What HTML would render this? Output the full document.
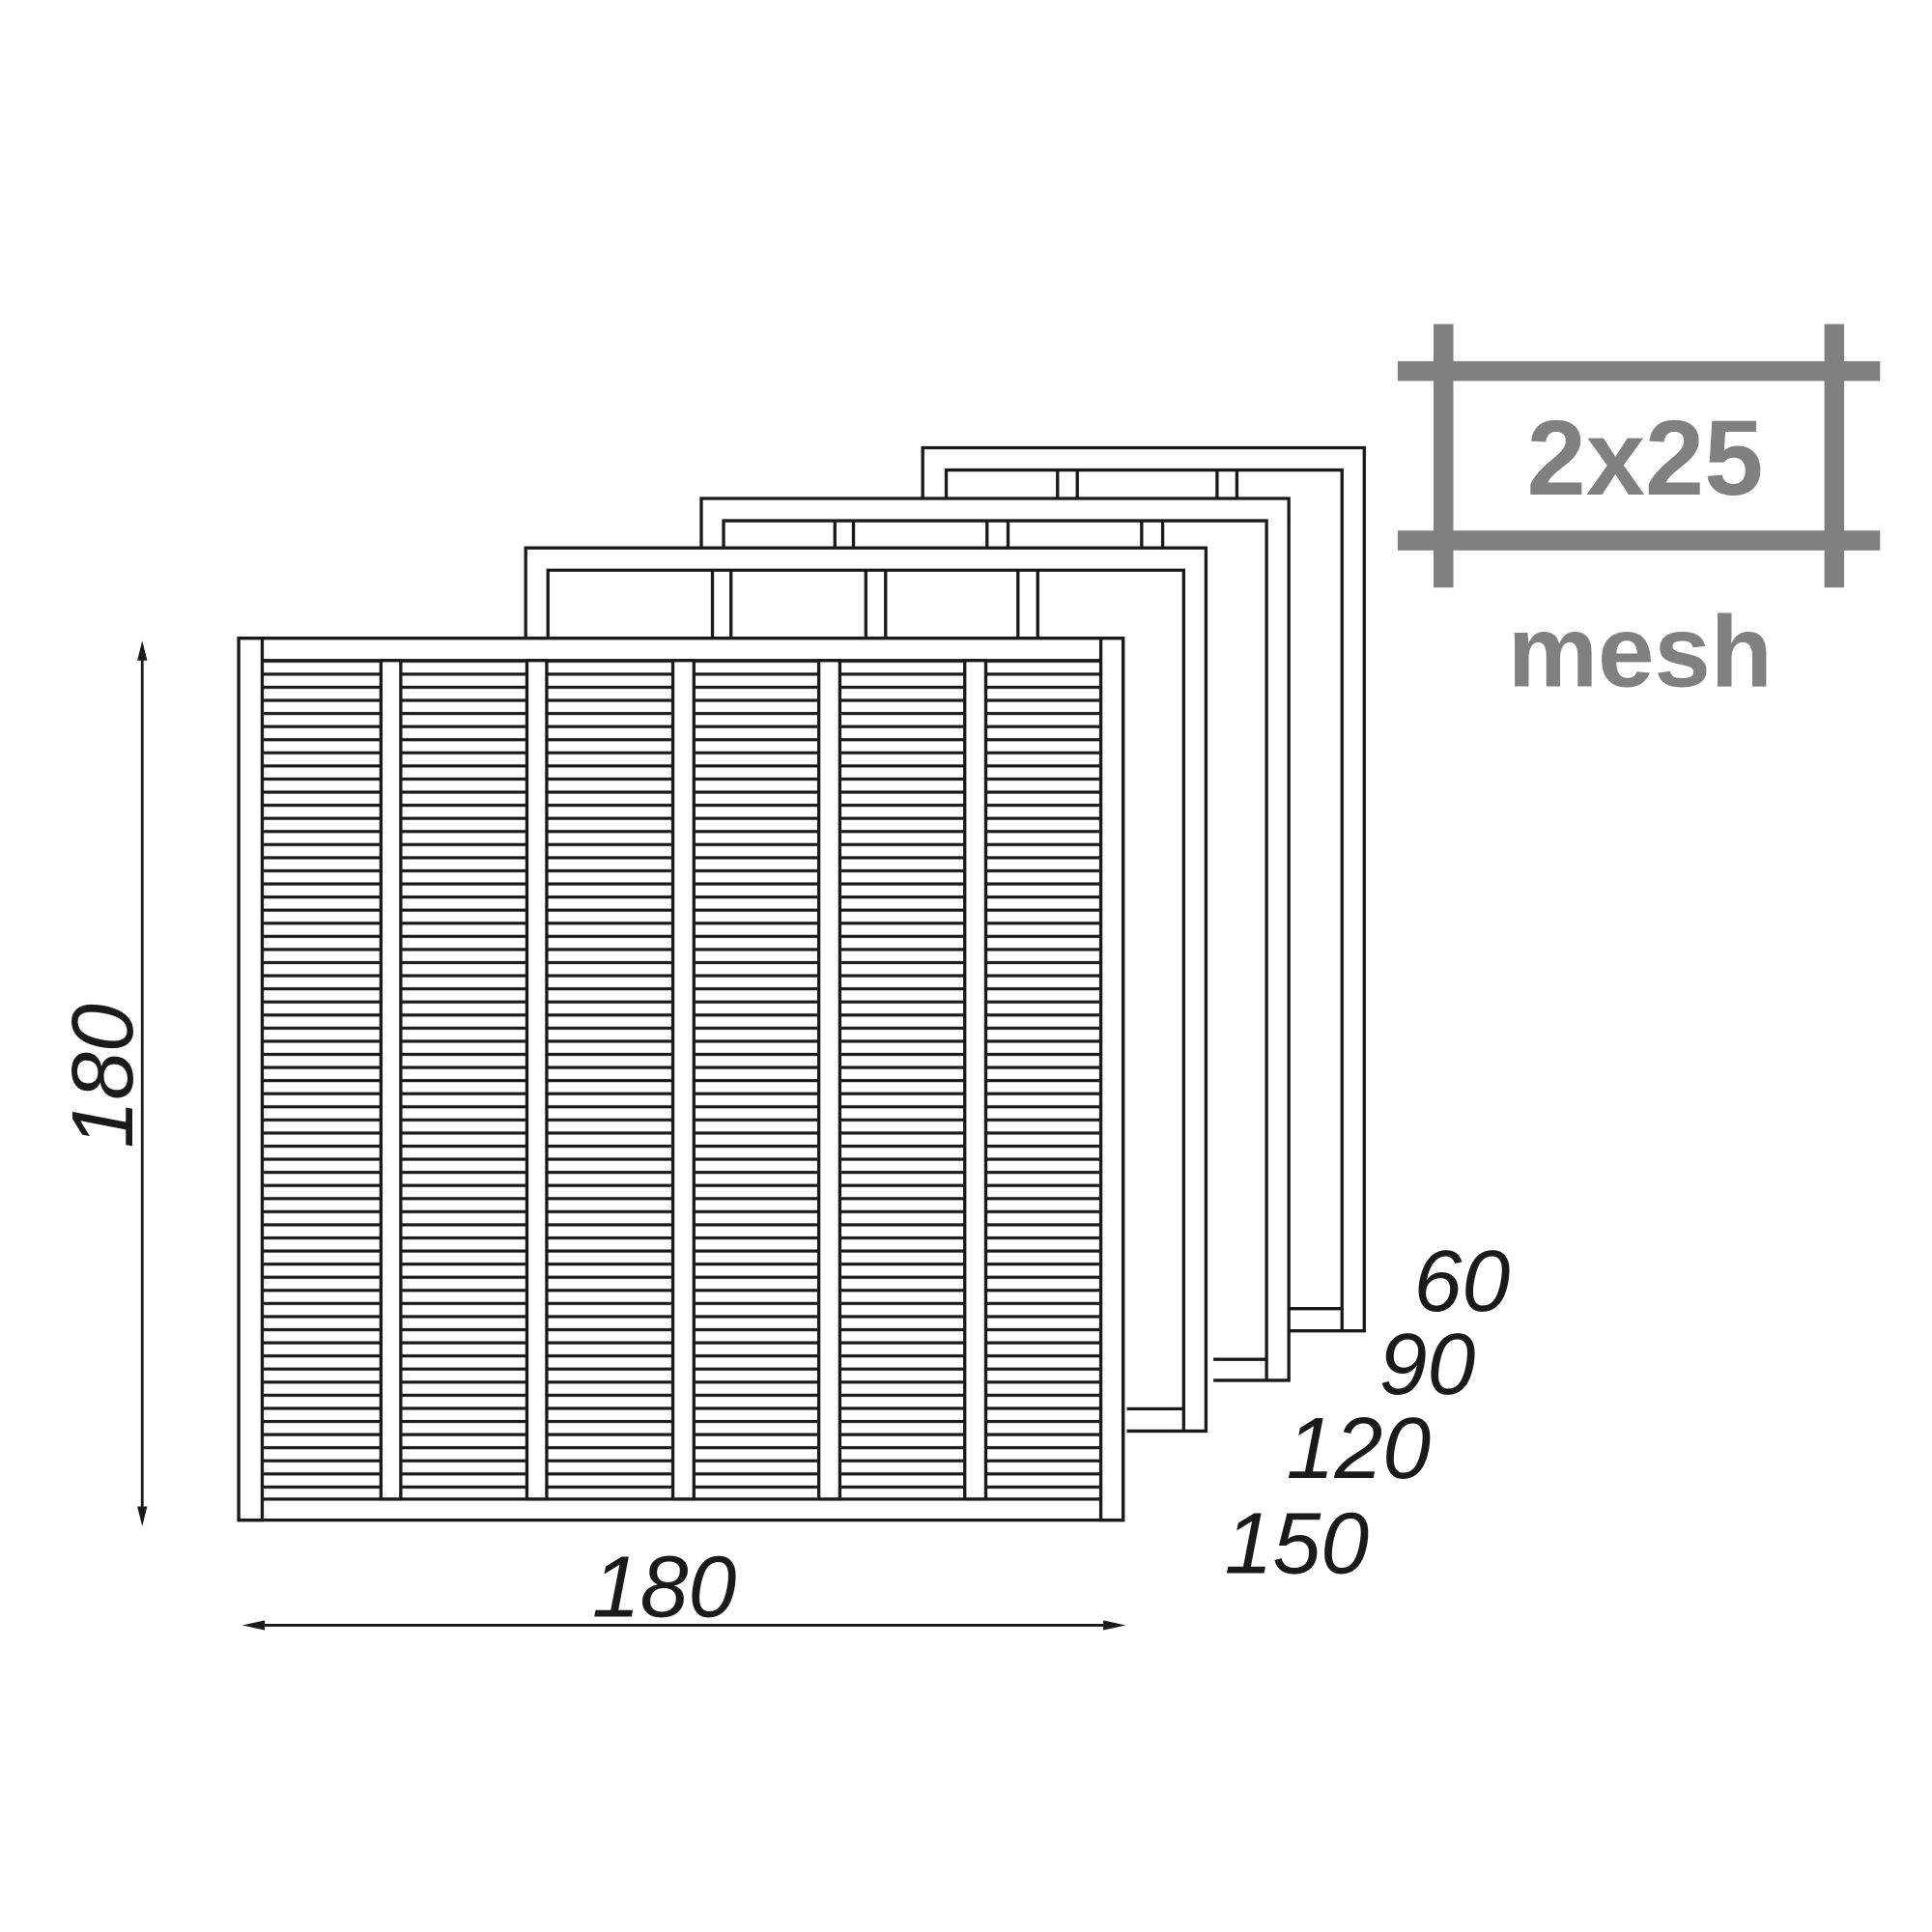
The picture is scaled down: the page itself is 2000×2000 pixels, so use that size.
<!DOCTYPE html>
<html><head><meta charset="utf-8"><style>html,body{margin:0;padding:0;background:#fff}svg{display:block}</style></head>
<body>
<svg width="2000" height="2000" viewBox="0 0 1562 1562" xmlns="http://www.w3.org/2000/svg">
<defs>
<pattern id="sl" patternUnits="userSpaceOnUse" x="0" y="539.7" width="20" height="10.6">
<rect width="20" height="10.6" fill="#fff"/>
<rect x="0" y="4.1" width="20" height="2.5" fill="#1a1a1a"/>
</pattern>
</defs>
<rect width="1562" height="1562" fill="#fff"/>
<g fill="none" stroke="#1a1a1a" stroke-width="2.6">
<path d="M746 403 V362 H1103 V1076 H1041 M765 403 V380 H1085 V1058 H1041 M1085 1058 V1076"/>
<path d="M855 403 V380 M871 403 V380 M984 403 V380 M1000 403 V380"/>
<path d="M567 443 V403 H1042 V1116 H981 M585 443 V421 H1024 V1099 H981 M1024 1099 V1116"/>
<path d="M675 443 V421 M690 443 V421 M798 443 V421 M815 443 V421 M923 443 V421 M940 443 V421"/>
<path d="M425 516 V443 H975 V1157 H911 M443 516 V461 H957 V1139 H911 M957 1139 V1157"/>
<path d="M576 516 V461 M591 516 V461 M700 516 V461 M716 516 V461 M823 516 V461 M839 516 V461"/>
</g>
<rect x="212" y="534" width="678" height="678" fill="url(#sl)"/>
<g fill="#fff" stroke="#1a1a1a" stroke-width="2.6">
<path d="M193 516 H908 V1229 H193 Z" fill="none"/>
<rect x="193" y="516" width="19" height="713"/>
<rect x="890" y="516" width="18" height="713"/>
<line x1="212" y1="534" x2="890" y2="534"/>
<line x1="212" y1="1212" x2="890" y2="1212"/>
<rect x="308" y="534" width="16" height="678"/>
<rect x="426" y="534" width="16" height="678"/>
<rect x="544" y="534" width="17" height="678"/>
<rect x="662" y="534" width="17" height="678"/>
<rect x="780" y="534" width="17" height="678"/>
</g>
<g stroke="#1a1a1a" stroke-width="2.2" fill="#1a1a1a">
<line x1="115" y1="528" x2="115" y2="1224"/>
<path d="M115 518 L111 534 L119 534 Z" stroke="none"/>
<path d="M115 1234 L111 1218 L119 1218 Z" stroke="none"/>
<line x1="206" y1="1314" x2="900" y2="1314"/>
<path d="M196 1314 L214 1310 L214 1318 Z" stroke="none"/>
<path d="M910 1314 L892 1310 L892 1318 Z" stroke="none"/>
</g>
<g font-family="Liberation Sans, sans-serif" font-style="italic" fill="#1a1a1a" font-size="70">
<text x="537" y="1307" text-anchor="middle">180</text>
<text transform="translate(107,870) rotate(-90)" text-anchor="middle">180</text>
<text x="1143" y="1060">60</text>
<text x="1115" y="1127">90</text>
<text x="1040" y="1195">120</text>
<text x="990" y="1272">150</text>
</g>
<g fill="#808080">
<rect x="1130" y="292" width="390" height="16"/>
<rect x="1130" y="429" width="390" height="16"/>
<rect x="1159" y="262" width="16" height="213"/>
<rect x="1475" y="262" width="16" height="213"/>
</g>
<g font-family="Liberation Sans, sans-serif" font-weight="bold" fill="#808080" text-anchor="middle">
<text x="1330" y="400" font-size="86">2x25</text>
<text x="1326" y="555" font-size="82">mesh</text>
</g>
</svg>
</body></html>
